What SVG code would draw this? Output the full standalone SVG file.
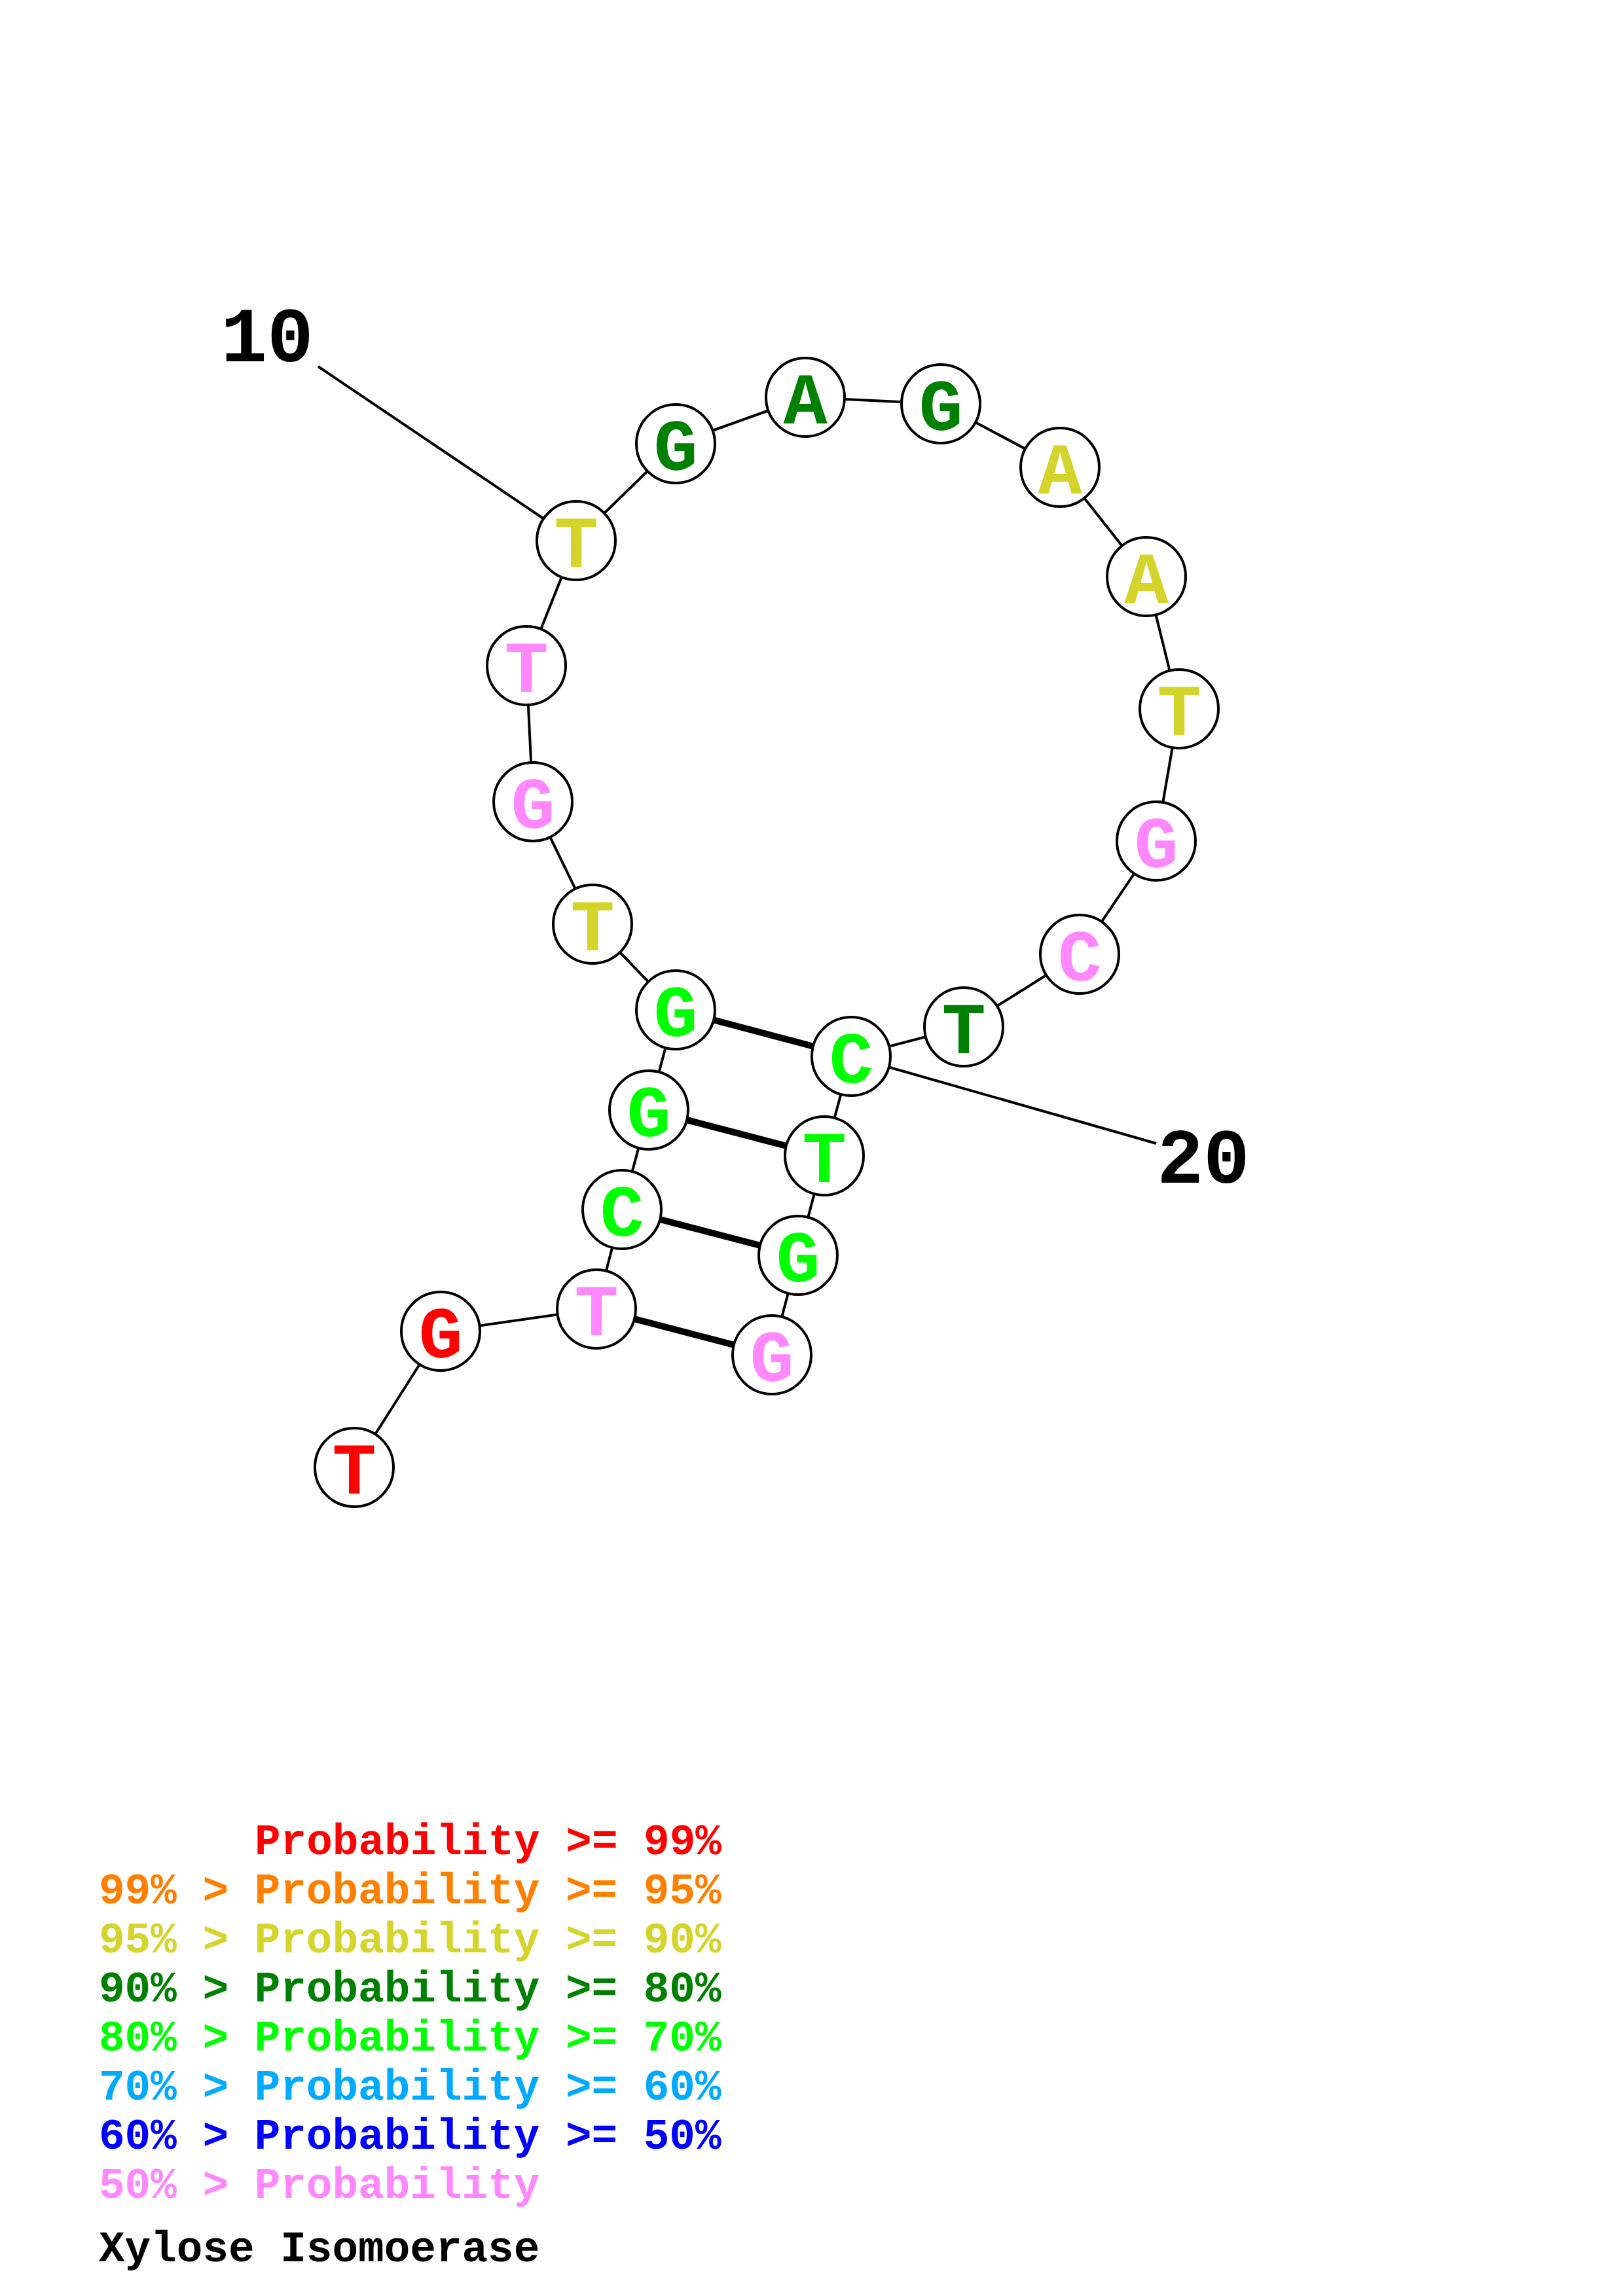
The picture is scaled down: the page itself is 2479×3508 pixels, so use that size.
<svg xmlns="http://www.w3.org/2000/svg" width="2479" height="3508" viewBox="0 0 2479 3508">
<style>
.bb{stroke:#000;stroke-width:4;fill:none}
.pr{stroke:#000;stroke-width:10;fill:none}
.nd circle{fill:#fff;stroke:#000;stroke-width:4}
.nd text{font-family:"Liberation Mono","DejaVu Sans Mono",monospace;font-weight:bold;font-size:112px;text-anchor:middle}
.lbl{font-family:"Liberation Mono","DejaVu Sans Mono",monospace;font-weight:bold;font-size:118px;text-anchor:middle;fill:#000}
.lg{font-family:"Liberation Mono","DejaVu Sans Mono",monospace;font-weight:bold;font-size:66px}
.red{fill:#FF0000}.org{fill:#FF8000}.yel{fill:#D4D42A}.dgr{fill:#008000}.grn{fill:#00FF00}.lbl2{fill:#00AAFF}.blu{fill:#0000FF}.pnk{fill:#FF88FF}
</style>
<rect width="2479" height="3508" fill="#fff"/>
<g id="connectors">
<polyline class="bb" points="541,2242 673,2034 911,2000 950,1848 991,1696 1032,1543 905,1412 814,1225 804,1017 880,826 1032,678 1230,607 1437,617 1619,714 1751,881 1801,1083 1766,1285 1649,1458 1472,1569 1300,1614 1259,1766 1219,1918 1179,2070"/>
<line class="pr" x1="1032" y1="1543" x2="1300" y2="1614"/>
<line class="pr" x1="991" y1="1696" x2="1259" y2="1766"/>
<line class="pr" x1="950" y1="1848" x2="1219" y2="1918"/>
<line class="pr" x1="911" y1="2000" x2="1179" y2="2070"/>
<line class="bb" x1="486" y1="560" x2="880" y2="826"/>
<line class="bb" x1="1300" y1="1614" x2="1766" y2="1747"/>
</g>
<g id="n1" class="nd"><circle cx="541" cy="2242" r="60"/><text x="541" y="2282" class="red">T</text></g>
<g id="n2" class="nd"><circle cx="673" cy="2034" r="60"/><text x="673" y="2074" class="red">G</text></g>
<g id="n3" class="nd"><circle cx="911" cy="2000" r="60"/><text x="911" y="2040" class="pnk">T</text></g>
<g id="n4" class="nd"><circle cx="950" cy="1848" r="60"/><text x="950" y="1888" class="grn">C</text></g>
<g id="n5" class="nd"><circle cx="991" cy="1696" r="60"/><text x="991" y="1736" class="grn">G</text></g>
<g id="n6" class="nd"><circle cx="1032" cy="1543" r="60"/><text x="1032" y="1583" class="grn">G</text></g>
<g id="n7" class="nd"><circle cx="905" cy="1412" r="60"/><text x="905" y="1452" class="yel">T</text></g>
<g id="n8" class="nd"><circle cx="814" cy="1225" r="60"/><text x="814" y="1265" class="pnk">G</text></g>
<g id="n9" class="nd"><circle cx="804" cy="1017" r="60"/><text x="804" y="1057" class="pnk">T</text></g>
<g id="n10" class="nd"><circle cx="880" cy="826" r="60"/><text x="880" y="866" class="yel">T</text></g>
<g id="n11" class="nd"><circle cx="1032" cy="678" r="60"/><text x="1032" y="718" class="dgr">G</text></g>
<g id="n12" class="nd"><circle cx="1230" cy="607" r="60"/><text x="1230" y="647" class="dgr">A</text></g>
<g id="n13" class="nd"><circle cx="1437" cy="617" r="60"/><text x="1437" y="657" class="dgr">G</text></g>
<g id="n14" class="nd"><circle cx="1619" cy="714" r="60"/><text x="1619" y="754" class="yel">A</text></g>
<g id="n15" class="nd"><circle cx="1751" cy="881" r="60"/><text x="1751" y="921" class="yel">A</text></g>
<g id="n16" class="nd"><circle cx="1801" cy="1083" r="60"/><text x="1801" y="1123" class="yel">T</text></g>
<g id="n17" class="nd"><circle cx="1766" cy="1285" r="60"/><text x="1766" y="1325" class="pnk">G</text></g>
<g id="n18" class="nd"><circle cx="1649" cy="1458" r="60"/><text x="1649" y="1498" class="pnk">C</text></g>
<g id="n19" class="nd"><circle cx="1472" cy="1569" r="60"/><text x="1472" y="1609" class="dgr">T</text></g>
<g id="n20" class="nd"><circle cx="1300" cy="1614" r="60"/><text x="1300" y="1654" class="grn">C</text></g>
<g id="n21" class="nd"><circle cx="1259" cy="1766" r="60"/><text x="1259" y="1806" class="grn">T</text></g>
<g id="n22" class="nd"><circle cx="1219" cy="1918" r="60"/><text x="1219" y="1958" class="grn">G</text></g>
<g id="n23" class="nd"><circle cx="1179" cy="2070" r="60"/><text x="1179" y="2110" class="pnk">G</text></g>
<g id="labels">
<text class="lbl" x="408" y="552">10</text>
<text class="lbl" x="1838" y="1807">20</text>
</g>
<g id="legend">
<text class="lg red" x="389" y="2833">Probability &gt;= 99%</text>
<text class="lg org" x="151" y="2908">99% &gt; Probability &gt;= 95%</text>
<text class="lg yel" x="151" y="2983">95% &gt; Probability &gt;= 90%</text>
<text class="lg dgr" x="151" y="3058">90% &gt; Probability &gt;= 80%</text>
<text class="lg grn" x="151" y="3133">80% &gt; Probability &gt;= 70%</text>
<text class="lg lbl2" x="151" y="3208">70% &gt; Probability &gt;= 60%</text>
<text class="lg blu" x="151" y="3283">60% &gt; Probability &gt;= 50%</text>
<text class="lg pnk" x="151" y="3358">50% &gt; Probability</text>
<text class="lg" x="151" y="3455" fill="#000">Xylose Isomoerase</text>
</g>
</svg>
